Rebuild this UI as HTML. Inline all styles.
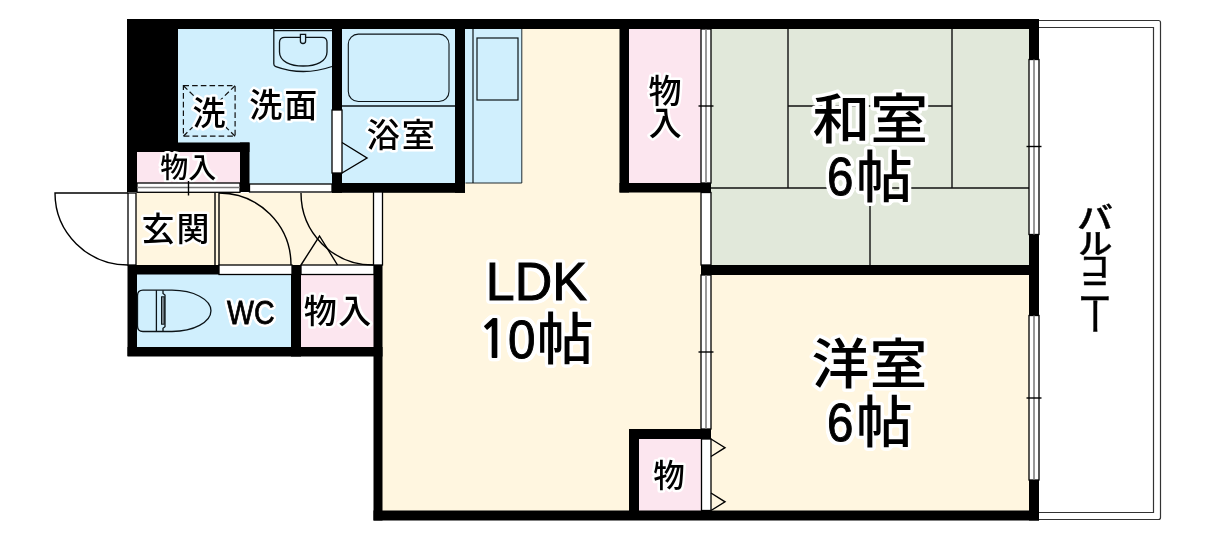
<!DOCTYPE html>
<html lang="ja">
<head>
<meta charset="utf-8">
<title>間取り図</title>
<style>
html,body{margin:0;padding:0;background:#fff;}
body{width:1212px;height:541px;overflow:hidden;}
svg{display:block;will-change:transform;}
text{font-family:"Liberation Sans","Noto Sans CJK JP",sans-serif;fill:#000;stroke:#fff;stroke-linejoin:round;paint-order:stroke fill;}
.big{font-size:54px;font-weight:500;stroke-width:7px;}
.mid{font-size:33px;font-weight:500;stroke-width:5px;}
.sm2{font-size:28px;font-weight:500;stroke-width:5px;}
.wc{font-size:32px;font-weight:400;stroke-width:5px;}
.sm{font-size:30px;font-weight:500;stroke-width:5px;}
.f{filter:url(#halo);stroke:none;}
.wc.f{filter:url(#halo2);}
.lat{stroke:#000;stroke-width:1px;stroke-linejoin:miter;}
.bal text{font-size:30px;font-weight:500;stroke:#000;stroke-width:.4px;paint-order:normal;}
.dg{font-size:53px;}
.jo{font-size:55.400px;}
.one{font-family:"NanumGothic","Liberation Sans",sans-serif;font-weight:700;font-size:53px;stroke:none;}
.fx{stroke:#0c1418;stroke-width:1.300;fill:none;}
.ln{stroke:#000;stroke-width:1.4;fill:none;}
.wd{stroke:#000;stroke-width:1.3;fill:#fff;}
.lt{stroke:#333;stroke-width:1.2;fill:none;}
</style>
</head>
<body>
<svg width="1212" height="541" viewBox="0 0 1212 541">
<rect width="1212" height="541" fill="#fff"/>
<defs>
<filter id="halo" filterUnits="userSpaceOnUse" x="0" y="0" width="1212" height="541" color-interpolation-filters="sRGB">
<feMorphology in="SourceAlpha" operator="dilate" radius="1.500" result="d"/>
<feGaussianBlur in="d" stdDeviation="1.800" result="b"/>
<feComponentTransfer in="b" result="t"><feFuncA type="linear" slope="8" intercept="-0.800"/></feComponentTransfer>
<feFlood flood-color="#fff"/><feComposite in2="t" operator="in" result="h"/>
<feMerge><feMergeNode in="h"/><feMergeNode in="SourceGraphic"/></feMerge>
</filter>
<filter id="halo2" filterUnits="userSpaceOnUse" x="0" y="0" width="1212" height="541" color-interpolation-filters="sRGB">
<feMorphology in="SourceAlpha" operator="dilate" radius="0.900" result="d"/>
<feGaussianBlur in="d" stdDeviation="1.600" result="b"/>
<feComponentTransfer in="b" result="t"><feFuncA type="linear" slope="8" intercept="-0.800"/></feComponentTransfer>
<feFlood flood-color="#fff"/><feComposite in2="t" operator="in" result="h"/>
<feMerge><feMergeNode in="h"/><feMergeNode in="SourceGraphic"/></feMerge>
</filter>
</defs>

<!-- room fills -->
<g id="fills">
<rect x="382" y="192" width="320" height="319" fill="#fff6e0"/>
<rect x="465" y="29" width="155" height="170" fill="#fff6e0"/>
<rect x="136" y="193" width="238" height="72" fill="#fff6e0"/>
<rect x="178" y="29" width="154" height="163" fill="#d0effd"/>
<rect x="342" y="29" width="113" height="154" fill="#d0effd"/>
<rect x="465" y="29" width="57" height="154" fill="#d0effd"/>
<rect x="137" y="152" width="103" height="31" fill="#fce6ef"/>
<rect x="137" y="274" width="155" height="73" fill="#d0effd"/>
<rect x="301" y="274" width="73" height="73" fill="#fce6ef"/>
<rect x="629" y="29" width="72" height="154" fill="#fce6ef"/>
<rect x="711" y="29" width="318" height="236" fill="#e1e8da"/>
<rect x="711" y="275" width="318" height="236" fill="#fff6e0"/>
<rect x="639" y="439" width="63" height="72" fill="#fce6ef"/>
</g>

<!-- walls -->
<g id="walls" fill="#000">
<rect x="127" y="19" width="912" height="10"/>
<rect x="127" y="19" width="51" height="133"/>
<rect x="127" y="142.500" width="122.500" height="9.500"/>
<rect x="127" y="142.500" width="10" height="49.500"/>
<rect x="240" y="142.500" width="9.500" height="49.500"/>
<rect x="332" y="19" width="10" height="91"/>
<rect x="332" y="173" width="10" height="19.800"/>
<rect x="332" y="183" width="133" height="9.800"/>
<rect x="455" y="19" width="10" height="173.800"/>
<rect x="128" y="265" width="91" height="9.500"/>
<rect x="127.500" y="265" width="9.500" height="91"/>
<rect x="127.500" y="347" width="255" height="9.500"/>
<rect x="291" y="265" width="10" height="91.500"/>
<rect x="373.500" y="265" width="9" height="255.500"/>
<rect x="373.500" y="510.500" width="665.500" height="10"/>
<rect x="619.500" y="19" width="9.500" height="173.500"/>
<rect x="619.500" y="183" width="91.500" height="9.500"/>
<rect x="701" y="265" width="338" height="10"/>
<rect x="1029" y="19" width="10" height="40.500"/>
<rect x="1029" y="234.500" width="10" height="81"/>
<rect x="1029" y="480" width="10" height="40.500"/>
<rect x="629" y="429" width="10" height="91"/>
<rect x="629" y="429" width="82" height="10"/>
</g>

<!-- tatami lines -->
<g class="ln" style="stroke:#111;stroke-width:1.400">
<path d="M788 29V188M952 29V188M788 106H952M711 188H1029M870 188V265"/>
</g>

<!-- balcony -->
<g class="lt">
<path d="M1039 20.500H1158.500Q1160.500 20.500 1160.500 22.500V517.500Q1160.500 519.500 1158.500 519.500H1039"/>
<path d="M1039 27.500H1153.500V512.500H1039"/>
</g>

<!-- windows (right wall) -->
<g>
<rect x="1029" y="59.500" width="10" height="175" class="wd"/>
<path d="M1034 59.500V234.500" stroke="#777" stroke-width="1.500" fill="none"/>
<path d="M1026.500 146.500H1041.500" class="ln"/>
<rect x="1029" y="315.500" width="10" height="164.500" class="wd"/>
<path d="M1034 315.500V480" stroke="#777" stroke-width="1.500" fill="none"/>
<path d="M1026.500 398H1041.500" class="ln"/>
</g>

<!-- sliding doors on x=701..711 -->
<g>
<rect x="701" y="29" width="10" height="154" class="wd"/>
<path d="M706 29V183" stroke="#777" stroke-width="1.500" fill="none"/>
<path d="M698.500 106H713.500" class="ln"/>
<rect x="701" y="192.500" width="10" height="72.500" class="wd"/>
<rect x="701" y="275" width="10" height="154" class="wd"/>
<path d="M706 275V429" stroke="#777" stroke-width="1.500" fill="none"/>
<path d="M698.500 352H713.500" class="ln"/>
<rect x="701.500" y="439" width="9.500" height="71.500" class="wd"/>
<path d="M711 439L725 447.700L711 456.500M711 493L725 501.800L711 510.500" class="ln"/>
</g>

<text class="sm2" x="188.200" y="178" text-anchor="middle">物入</text>
<!-- doors left part -->
<g>
<!-- closet sliding door under 物入 -->
<rect x="137" y="183" width="103" height="9.300" class="wd"/>
<path d="M137 187.600H240" stroke="#777" stroke-width="1.500" fill="none"/>
<path d="M188.500 181V195.500" class="ln"/>
<!-- washroom door strip -->
<rect x="249.500" y="184" width="82.500" height="8" class="wd"/>
<!-- bath door -->
<rect x="332" y="110" width="10" height="63" class="wd"/>
<path d="M342 142.500L367 158L342 173" class="ln"/>
<!-- entrance door -->
<rect x="128" y="193" width="8" height="72" class="wd"/>
<path d="M128 193H55A73 72 0 0 0 128 265" class="ln"/>
<!-- step -->
<path d="M215 193V265M219 193V265" class="ln"/>
<!-- wc door -->
<rect x="219" y="265" width="73" height="9.500" class="wd"/>
<path d="M219 193A72 72 0 0 1 291 265" class="ln"/>
<!-- closet folding door -->
<rect x="301" y="265" width="73" height="9.500" class="wd"/>
<path d="M301 265L319.500 236L337.500 265" class="ln"/>
<!-- LDK door -->
<rect x="373.500" y="192" width="9" height="73" class="wd"/>
<path d="M301 193A72 72 0 0 0 373 265" class="ln"/>
</g>

<!-- fixtures -->
<g class="fx">
<!-- wash basin -->
<path d="M273.800 29V64Q273.800 66 275.800 66.600Q303 76.500 332 66.500M273.800 30.600H332"/>
<path d="M285 37.300H322Q327 37.300 327 42.300V52C327 61.500 316 66 303.200 66C290.500 66 279.500 61.500 279.500 52V42.300Q279.500 37.300 285 37.300Z"/>
<path d="M300.400 34.400V41Q300.400 43.500 303 43.500Q305.600 43.500 305.600 41V34.400Z" style="fill:#d0effd"/>
<!-- bathtub -->
<path d="M342 106H455" style="stroke-width:1.500"/>
<rect x="348.300" y="34.100" width="100.700" height="67.400" rx="10" style="stroke-width:1.100"/>
<!-- kitchen -->
<path d="M465.500 183H521.800V29" style="stroke-width:.9"/>
<path d="M473 29V183" style="stroke-width:1.200"/>
<rect x="477" y="38" width="41" height="62" style="stroke-width:1.200"/>
<!-- toilet -->
<path d="M163 290.200H143Q137.500 290.200 137.500 295.700V326Q137.500 331.500 143 331.500H163"/>
<path d="M156.400 290.200V331.500"/>
<path d="M163 290.200V293.500L165 295V326.700L163 328.200V331.500"/>
<rect x="161.500" y="296.800" width="2.800" height="27.400" style="fill:#7d8a92;stroke-width:1"/>
<path d="M163 290.200H172A39 20.650 0 0 1 172 331.500H163"/>
</g>
<!-- washer dashed -->
<g stroke="#111" stroke-width="1.200" fill="none" stroke-dasharray="5.600 3.100">
<rect x="183.400" y="85.700" width="51.700" height="50.500"/>
<path d="M183.400 85.700L209.250 110.950M235.100 85.700L209.250 110.950M183.400 136.200L209.250 110.950M235.100 136.200L209.250 110.950"/>
</g>

<!-- labels -->
<g text-anchor="middle">
<text class="big" x="870.200" y="139" textLength="115.600" lengthAdjust="spacingAndGlyphs">和室</text>
<text class="big f" text-anchor="start"><tspan class="lat dg" x="827" y="195" textLength="26.400" lengthAdjust="spacingAndGlyphs">6</tspan><tspan class="jo" x="856" y="196.600" textLength="56.600" lengthAdjust="spacingAndGlyphs">帖</tspan></text>
<text class="big" x="869.400" y="383.800" textLength="115.600" lengthAdjust="spacingAndGlyphs">洋室</text>
<text class="big f" text-anchor="start"><tspan class="lat dg" x="827" y="440.500" textLength="26.400" lengthAdjust="spacingAndGlyphs">6</tspan><tspan class="jo" x="856" y="442" textLength="56.600" lengthAdjust="spacingAndGlyphs">帖</tspan></text>
<text class="big f" x="536.300" y="299.800" style="font-size:54px" textLength="101" lengthAdjust="spacingAndGlyphs"><tspan class="lat">LDK</tspan></text>
<text class="big f" text-anchor="start"><tspan class="one" x="477.300" y="357.500">1</tspan><tspan class="lat dg" x="508" y="357.700" style="font-size:54.500px" textLength="27.500" lengthAdjust="spacingAndGlyphs">0</tspan><tspan class="jo" x="536.800" y="358.800" textLength="56.600" lengthAdjust="spacingAndGlyphs">帖</tspan></text>
<text class="mid" x="284.300" y="117" letter-spacing="2">洗面</text>
<text class="mid" x="209" y="125">洗</text>
<text class="mid" x="401.700" y="147.300" letter-spacing="2">浴室</text>
<text class="mid" x="176.500" y="241" letter-spacing="2">玄関</text>
<text class="wc f" x="250.800" y="323.700" style="font-size:33px" textLength="47.500" lengthAdjust="spacingAndGlyphs"><tspan class="lat" style="stroke-width:.8px">WC</tspan></text>
<text class="mid" x="338.200" y="323" letter-spacing="1.500">物入</text>
<text class="mid" x="665" y="102.800">物</text>
<text class="mid" x="665.200" y="134.800">入</text>
<text class="sm" x="669" y="486.500" style="font-size:31.500px">物</text>
</g>
<g text-anchor="middle" class="bal">
<text transform="translate(1095 227.800) scale(1.200 1)">バ</text>
<text transform="translate(1095.300 254) scale(1.150 0.960)">ル</text>
<text transform="translate(1094.500 277.300) scale(1.030 0.935)">コ</text>
<text transform="translate(1095.300 300.750) scale(1.130 1)">ニ</text>
<text transform="translate(1094.700 316.200) rotate(90) scale(1.280 1)" dominant-baseline="central">ー</text>
</g>
</svg>
</body>
</html>
